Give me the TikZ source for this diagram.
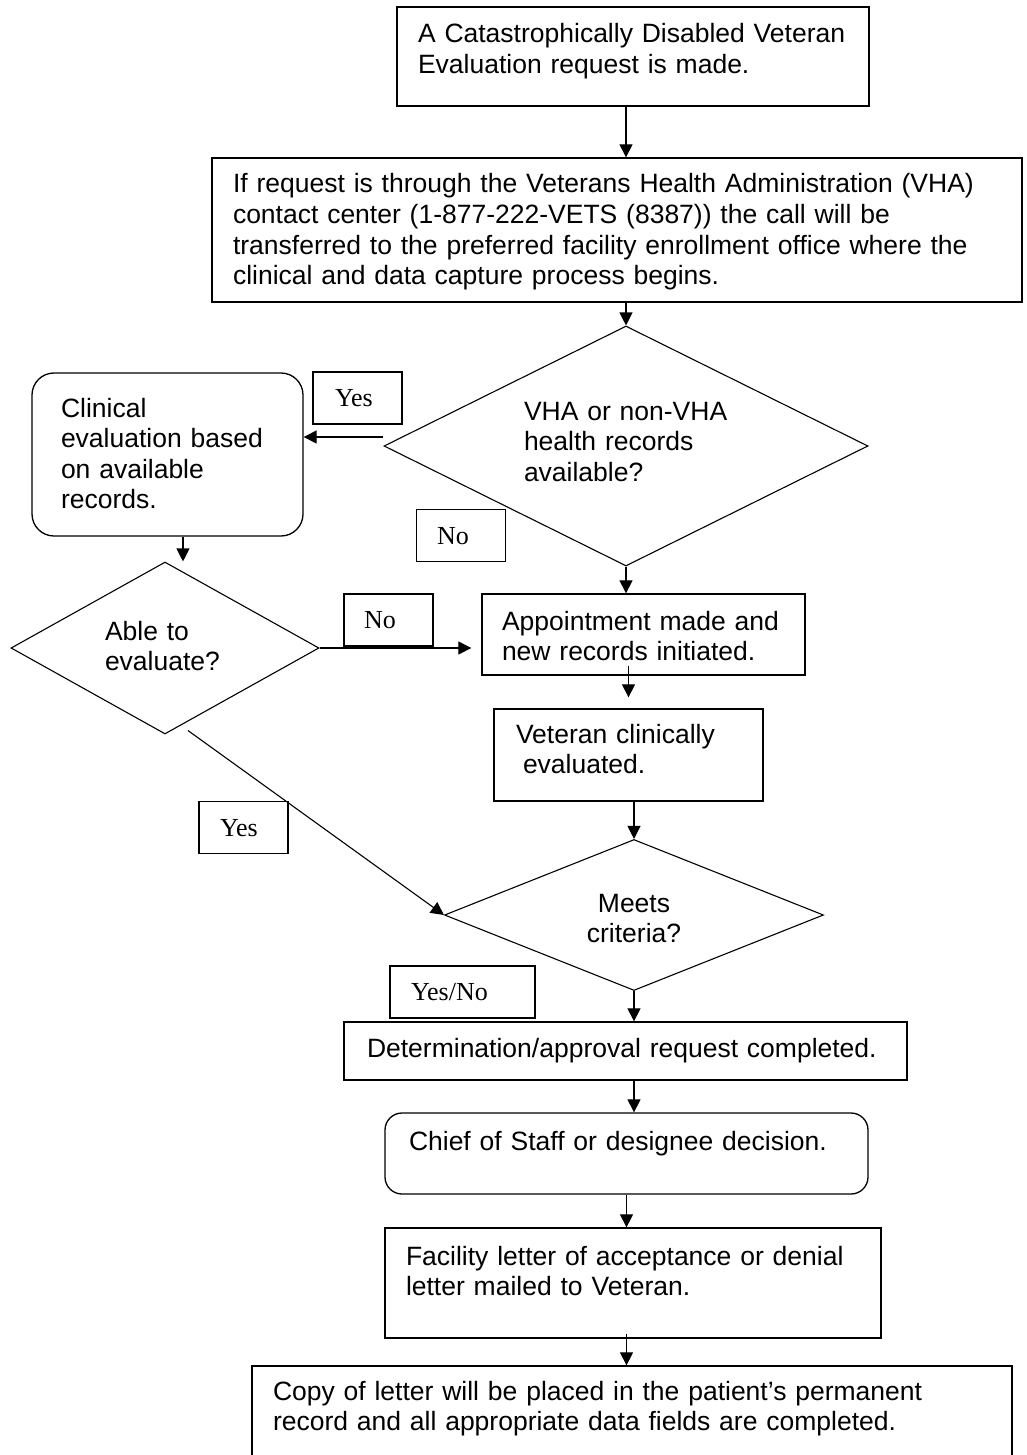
\documentclass[tikz,border=0pt]{standalone}
\usepackage{fontspec}
\setmainfont{Liberation Sans}
\newfontfamily\tagfont{Liberation Serif}
\usepackage{tikz}
\usetikzlibrary{arrows.meta,positioning,shapes.geometric,calc}
\tikzset{
    block/.style={
        rectangle,
        draw,
        line width=1.3pt,
        align=left,
        inner sep=0pt,
        text height=19pt
    },
    process/.style={block},
    roundproc/.style={block, rounded corners=22pt},
    decision/.style={
        diamond,
        draw,
        line width=1.1pt,
        aspect=2,
        inner sep=0pt,
        text height=19pt
    },
    flow/.style={-{Triangle[length=13pt,width=13pt]}, line width=1.1pt},
    tag/.style={
        rectangle,
        draw,
        line width=1.3pt,
        font=\tagfont\fontsize{26}{30}\selectfont,
        minimum width=89pt,
        minimum height=52pt,
        text width=47pt,
        align=left,
        inner sep=0pt,
        text height=17pt,
        text depth=0pt
    }
}

\begin{document}
\begin{tikzpicture}[x=1pt, y=-1pt, font=\fontsize{26.5}{30.6}\selectfont]
        \useasboundingbox (0,0) rectangle (1027,1455);

        \node[process, minimum width=472pt, minimum height=99pt, text width=430pt, text depth=46pt] (request) at (633,56.5)
            {A Catastrophically Disabled Veteran\\Evaluation request is made.};
        \node[process, minimum width=810pt, minimum height=144pt, text width=768pt, text depth=93pt] (info) at (617,230)
            {If request is through the Veterans Health Administration (VHA)\\contact center (1-877-222-VETS (8387)) the call will be\\transferred to the preferred facility enrollment office where the\\clinical and data capture process begins.};
        \node[decision, minimum width=484pt, minimum height=240pt, text width=204pt, align=left, text depth=71pt] (rec) at (626,446)
            {VHA or non-VHA\\health records\\available?};
        \node[roundproc, minimum width=271pt, minimum height=163pt, text width=213pt, text depth=94pt] (clin) at (167.5,454.5)
            {Clinical\\evaluation based\\on available\\records.};
        \node[decision, minimum width=308pt, minimum height=172pt, text width=120pt, align=left, text depth=35pt] (able) at (165,648)
            {Able to\\evaluate?};
        \node[process, minimum width=323pt, minimum height=81pt, text width=283pt, text depth=28pt] (appt) at (643.5,634.5)
            {Appointment made and\\new records initiated.};
        \node[process, minimum width=269pt, minimum height=92pt, text width=225pt, text depth=43pt] (vet) at (628.5,755)
            {Veteran clinically\\\hspace*{7pt}evaluated.};
        \node[decision, minimum width=379pt, minimum height=151pt, text width=150pt, align=center, text depth=25pt] (meets) at (634,915)
            {Meets\\criteria?};
        \node[process, minimum width=563pt, minimum height=58pt, text width=517pt, text depth=7pt] (det) at (625.5,1051)
            {Determination/approval request completed.};
        \node[roundproc, rounded corners=17pt, minimum width=483pt, minimum height=81pt, text width=435pt, text depth=26pt] (chief) at (626.5,1153.5)
            {Chief of Staff or designee decision.};
        \node[process, minimum width=496pt, minimum height=110pt, text width=454pt, text depth=55pt] (letter) at (633,1283)
            {Facility letter of acceptance or denial\\letter mailed to Veteran.};
        \node[process, minimum width=760pt, minimum height=94pt, text width=718pt, text depth=45pt] (copy) at (632,1413)
            {Copy of letter will be placed in the patient’s permanent\\record and all appropriate data fields are completed.};

        \node[tag, text width=45pt] (yesrec) at (357.5,398) {Yes};
        \node[tag, text width=48pt] (norec) at (461,535.5) {No};
        \node[tag, text width=49pt] (noable) at (388.5,620) {No};
        \node[tag, text width=47pt] (yesable) at (243.5,827.5) {Yes};
        \node[tag, minimum width=145pt, text width=103pt] (yesno) at (462.5,992) {Yes/No};

        \coordinate (yesout) at ($(rec.west)+(0,-9)$);
        \coordinate (clinout) at ($(clin.south)+(15.5,0)$);
        \coordinate (apptout) at ($(appt.south -| vet)+(0,-10)$);
        \coordinate (ableout) at ($(able.south)+(23,-4)$);
        \coordinate (letterout) at ($(letter.south -| chief)+(0,-5)$);

        \draw[flow] (request.south -| rec) -- (info.north -| rec);
        \draw[flow] (info.south -| rec) -- (rec.north);
        \draw[flow] (yesout) -- (yesout -| clin.east);
        \draw[flow] (rec.south) -- (appt.north -| rec);
        \draw[flow] (clinout) -- (clinout |- able.north);
        \draw[flow, shorten >=10pt] (able.east) -- (able.east -| appt.west);
        \draw[flow, shorten >=11pt] (apptout) -- (vet.north);
        \draw[flow] (vet.south -| meets) -- (meets.north);
        \draw[flow] (ableout) -- (meets.west);
        \draw[flow] (meets.south) -- (meets.south |- det.north);
        \draw[flow] (det.south -| meets) -- (chief.north -| meets);
        \draw[flow] (chief.south) -- (chief.south |- letter.north);
        \draw[flow] (letterout) -- (copy.north -| chief);
    \end{tikzpicture}
\end{document}
